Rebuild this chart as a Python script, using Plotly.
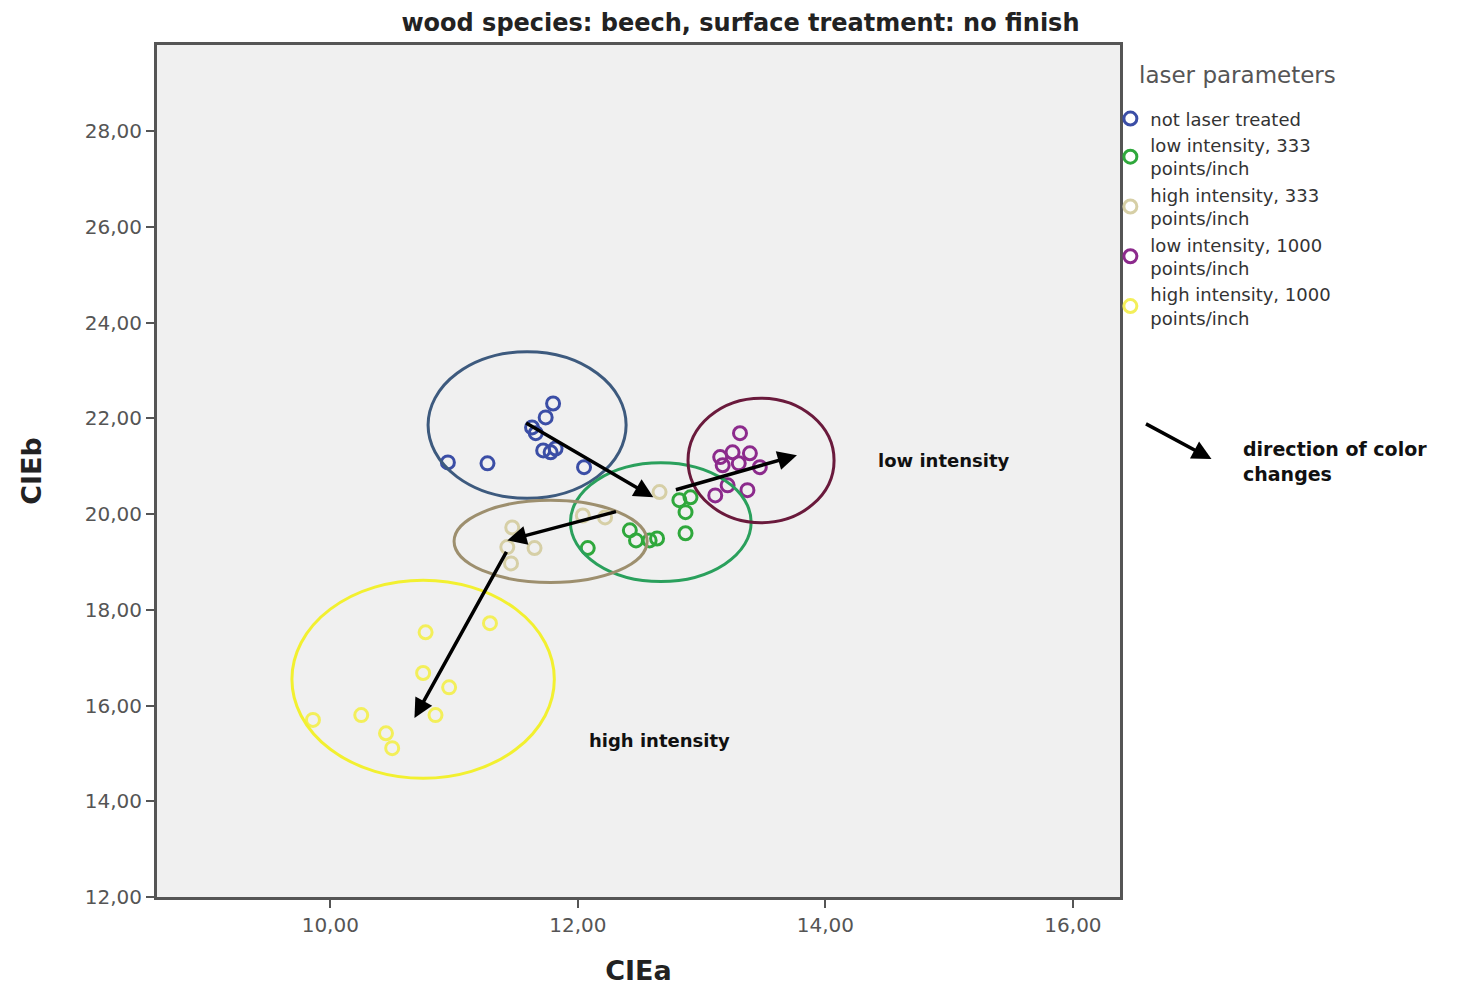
import plotly.graph_objects as go

# ---- data ----
series_names = ["not laser treated", "low intensity, 333<br>points/inch", "high intensity, 333<br>points/inch",
                "low intensity, 1000<br>points/inch", "high intensity, 1000<br>points/inch"]

blue_a = [11.80, 11.74, 11.63, 11.66, 11.72, 11.78, 11.82, 10.95, 11.27, 12.05]
blue_b = [22.31, 22.02, 21.81, 21.69, 21.33, 21.29, 21.37, 21.08, 21.06, 20.98]

green_a = [12.82, 12.91, 12.87, 12.87, 12.42, 12.47, 12.58, 12.64, 12.08]
green_b = [20.29, 20.35, 20.04, 19.60, 19.66, 19.45, 19.45, 19.49, 19.29]

beige_a = [12.66, 11.47, 11.43, 11.65, 12.22, 11.46, 12.04]
beige_b = [20.46, 19.72, 19.31, 19.29, 19.93, 18.97, 19.97]

purple_a = [13.31, 13.25, 13.39, 13.15, 13.17, 13.30, 13.47, 13.37, 13.11, 13.21]
purple_b = [21.69, 21.29, 21.27, 21.19, 21.02, 21.06, 20.98, 20.50, 20.39, 20.60]

yellow_a = [10.77, 11.29, 10.75, 10.96, 10.85, 10.25, 9.86, 10.45, 10.50]
yellow_b = [17.53, 17.72, 16.68, 16.38, 15.80, 15.80, 15.70, 15.42, 15.11]

# group ellipses (center a, center b, half-width a, half-height b)
ell_ca = [11.59, 12.67, 11.78, 13.48, 10.75]
ell_cb = [21.86, 19.83, 19.43, 21.12, 16.55]
ell_ra = [0.80, 0.73, 0.78, 0.59, 1.06]
ell_rb = [1.53, 1.24, 0.86, 1.30, 2.07]

# direction arrows (from -> to) in CIEa / CIEb
arr_a0 = [11.57, 12.32, 11.43, 12.78]
arr_b0 = [21.92, 20.06, 19.24, 20.50]
arr_a1 = [12.61, 11.43, 10.68, 13.77]
arr_b1 = [20.35, 19.45, 15.74, 21.23]

x_ticks = [10, 12, 14, 16]
y_ticks = [12, 14, 16, 18, 20, 22, 24, 26, 28]

# ---- styles ----
marker_colors = ["#3b4ea6", "#2fa83c", "#d6cfa6", "#8c2a8c", "#f3ef5a"]
ellipse_colors = ["#3d5a7e", "#2aa05c", "#9d8f6e", "#6a1a3c", "#f2f030"]
FONT = "DejaVu Sans, Arial, sans-serif"

all_a = [blue_a, green_a, beige_a, purple_a, yellow_a]
all_b = [blue_b, green_b, beige_b, purple_b, yellow_b]

fig = go.Figure()
for name, xa, yb, c in zip(series_names, all_a, all_b, marker_colors):
    fig.add_trace(go.Scatter(
        x=xa, y=yb, mode="markers", name=name,
        marker=dict(symbol="circle-open", size=13, color=c, line=dict(width=3, color=c)),
    ))

shapes = []
for ca, cb, ra, rb, c in zip(ell_ca, ell_cb, ell_ra, ell_rb, ellipse_colors):
    shapes.append(dict(type="circle", xref="x", yref="y",
                       x0=ca - ra, x1=ca + ra, y0=cb - rb, y1=cb + rb,
                       line=dict(color=c, width=3)))

annotations = []
for a0, b0, a1, b1 in zip(arr_a0, arr_b0, arr_a1, arr_b1):
    annotations.append(dict(x=a1, y=b1, ax=a0, ay=b0, xref="x", yref="y", axref="x", ayref="y",
                            text="", showarrow=True, arrowhead=2, arrowsize=1.1, arrowwidth=3.5,
                            arrowcolor="#000000"))

annotations += [
    dict(x=14.96, y=21.12, xref="x", yref="y", text="<b>low intensity</b>", showarrow=False,
         font=dict(family=FONT, size=18, color="#111")),
    dict(x=12.66, y=15.28, xref="x", yref="y", text="<b>high intensity</b>", showarrow=False,
         font=dict(family=FONT, size=18, color="#111")),
    # legend arrow
    dict(x=1.095, y=0.514, ax=-67, ay=-36, xref="paper", yref="paper", axref="pixel", ayref="pixel",
         text="", showarrow=True, arrowhead=2, arrowsize=1.1, arrowwidth=3.5, arrowcolor="#000000"),
    dict(x=1.126, y=0.511, xref="paper", yref="paper", xanchor="left", yanchor="middle", align="left",
         text="<b>direction of color<br>changes</b>", showarrow=False,
         font=dict(family=FONT, size=19, color="#111")),
    # legend title
    dict(x=1.0177, y=0.965, xref="paper", yref="paper", xanchor="left", yanchor="middle",
         text="laser parameters", showarrow=False,
         font=dict(family=FONT, size=23, color="#555")),
]

fig.update_layout(
    width=1475, height=987,
    margin=dict(l=157, r=355, t=45, b=90),
    paper_bgcolor="white", plot_bgcolor="#f0f0f0",
    separators=",.",
    title=dict(text="<b>wood species: beech, surface treatment: no finish</b>",
               x=0.502, xref="container", xanchor="center", y=0.977, yref="container", yanchor="middle",
               font=dict(family=FONT, size=24, color="#222")),
    font=dict(family=FONT),
    shapes=shapes, annotations=annotations,
    legend=dict(
        x=0.99, xanchor="left", y=0.935, yanchor="top",
        bgcolor="rgba(0,0,0,0)", font=dict(family=FONT, size=18, color="#333"),
        itemwidth=30, tracegroupgap=0,
    ),
    xaxis=dict(range=[8.6, 16.38], tickvals=x_ticks, tickformat=".2f", automargin=False,
               showgrid=False, zeroline=False, showline=True, mirror=True,
               linecolor="#555", linewidth=3, ticks="outside", ticklen=8, tickwidth=2, tickcolor="#555",
               tickfont=dict(family=FONT, size=20, color="#555"),
               title=dict(text="<b>CIEa</b>", font=dict(family=FONT, size=27, color="#222"), standoff=26)),
    yaxis=dict(range=[12, 29.8], tickvals=y_ticks, tickformat=".2f", automargin=False,
               showgrid=False, zeroline=False, showline=True, mirror=True,
               linecolor="#555", linewidth=3, ticks="outside", ticklen=8, tickwidth=2, tickcolor="#555",
               tickfont=dict(family=FONT, size=20, color="#555"),
               title=dict(text="<b>CIEb</b>", font=dict(family=FONT, size=27, color="#222"), standoff=36)),
)

fig.write_html("out.html")
